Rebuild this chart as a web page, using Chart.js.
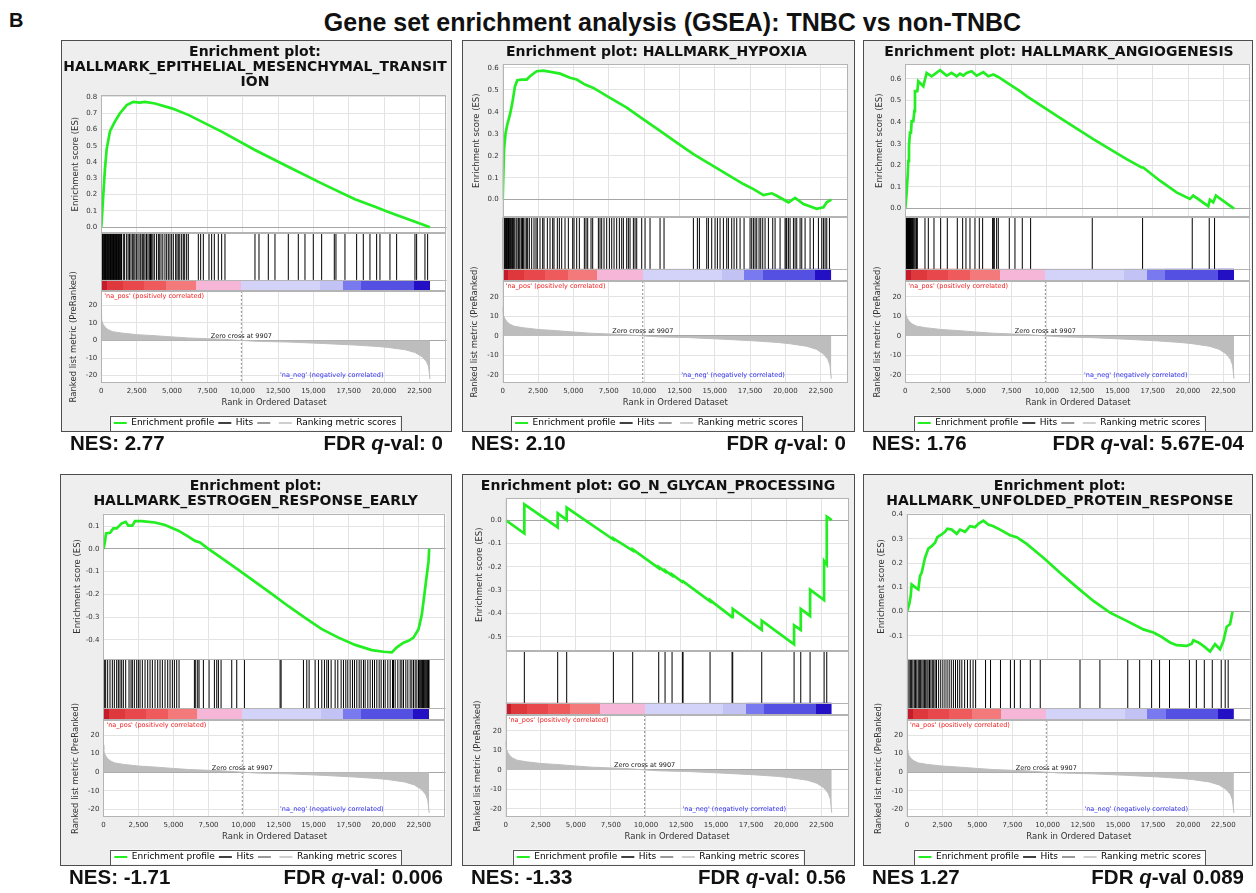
<!DOCTYPE html>
<html>
<head>
<meta charset="utf-8">
<title>GSEA: TNBC vs non-TNBC</title>
<script src="https://cdn.jsdelivr.net/npm/chart.js@4.4.1/dist/chart.umd.min.js"></script>
<style>
  html, body { margin:0; padding:0; background:#ffffff; }
  body { position:relative; width:1256px; height:893px; overflow:hidden; font-family:"Liberation Sans", Arial, sans-serif; color:#111; }
  .letter { position:absolute; left:9px; top:7px; font-size:20px; font-weight:bold; line-height:26px; }
  .main-title { position:absolute; left:672.5px; top:8px; transform:translateX(-50%); white-space:nowrap; font-size:25px; font-weight:bold; line-height:28px; }
  .card { position:absolute; box-sizing:border-box; height:392px; border:1px solid #4d4d4d; background:#eeeeee; }
  .card canvas { position:absolute; left:-1px; top:-1px; }
  .stat { position:absolute; font-size:20.5px; font-weight:bold; line-height:24px; white-space:nowrap; }
</style>
</head>
<body>
<div class="letter">B</div>
<div class="main-title">Gene set enrichment analysis (GSEA): TNBC vs non-TNBC</div>
<script>
// ---------------- data ----------------
const rankTicks = [0, 2500, 5000, 7500, 10000, 12500, 15000, 17500, 20000, 22500];
const metricTicks = [-20, -10, 0, 10, 20];
const RANK_MAX = 24430;
const ZERO_CROSS = 9907;

// ranked list metric (shared by all six panels)
const metricRank  = [0, 20, 60, 140, 300, 490, 800, 1440, 2500, 3800, 5000, 6150, 7500, 8500, 9907, 11000, 13200, 15600, 17900, 19500, 20300, 21500, 22200, 22700, 23000, 23150, 23250];
const metricValue = [14.7, 12, 10.5, 9, 7.3, 6.1, 5, 4.2, 3.3, 2.7, 2, 1.4, 1, 0.7, 0, -0.5, -0.9, -1.7, -2.6, -3.4, -4, -5.3, -6.9, -9.3, -12, -15, -22];

// colour bar band edges (ranks)
const bandEdges = [0, 400, 1500, 3000, 4600, 6700, 9907, 15500, 17100, 18400, 22100, 23250];

// enrichment score curves: [rank, ES]
const emtCurve = [[0,0],[140,0.197],[260,0.36],[380,0.48],[615,0.59],[970,0.65],[1320,0.70],[1800,0.75],[2260,0.77],[2700,0.765],[3090,0.77],[3800,0.76],[4980,0.73],[6150,0.69],[8510,0.587],[10870,0.474],[13220,0.371],[15580,0.269],[17940,0.172],[19360,0.125],[20300,0.094],[22190,0.033],[23250,0]];
const hypoxiaCurve = [[0,0],[94,0.23],[210,0.305],[328,0.343],[517,0.388],[682,0.441],[871,0.517],[1036,0.544],[1342,0.547],[1696,0.547],[1932,0.562],[2404,0.585],[2876,0.588],[3584,0.58],[4056,0.574],[4763,0.555],[5235,0.547],[5825,0.524],[6415,0.509],[7595,0.464],[8774,0.419],[9954,0.366],[11133,0.313],[12313,0.26],[13492,0.207],[14672,0.162],[15851,0.116],[17031,0.071],[17739,0.048],[18446,0.021],[19036,0.029],[19390,0.018],[20216,-0.012],[20688,0.008],[21278,-0.02],[22221,-0.042],[22693,-0.035],[22929,-0.012],[23250,0]];
const angioCurve = [[0,0],[49,0],[96,0.075],[167,0.152],[214,0.221],[261,0.29],[332,0.351],[402,0.351],[450,0.405],[567,0.405],[638,0.451],[685,0.543],[850,0.543],[921,0.589],[1274,0.566],[1392,0.597],[1510,0.628],[1864,0.612],[2453,0.64],[2924,0.615],[3278,0.628],[3631,0.612],[3867,0.624],[4103,0.615],[4338,0.628],[4692,0.635],[5046,0.615],[5517,0.631],[5871,0.612],[6224,0.62],[6578,0.609],[7403,0.574],[8110,0.543],[8581,0.52],[10938,0.42],[13295,0.321],[15652,0.229],[16713,0.19],[16831,0.19],[18009,0.129],[19187,0.075],[20130,0.045],[20366,0.06],[21427,0.011],[21545,0.041],[21781,0.029],[21970,0.06],[23250,0]];
const estrogenCurve = [[0,0],[107,0.032],[179,0.068],[465,0.071],[703,0.09],[941,0.09],[1298,0.112],[1584,0.119],[1774,0.102],[2060,0.102],[2250,0.122],[2727,0.122],[3679,0.116],[4393,0.105],[5346,0.08],[6060,0.054],[6536,0.035],[6893,0.028],[7489,0],[8441,-0.041],[9632,-0.092],[10822,-0.145],[12013,-0.198],[13203,-0.252],[14394,-0.303],[15584,-0.353],[16775,-0.39],[17965,-0.422],[19156,-0.445],[19989,-0.452],[20584,-0.455],[20941,-0.433],[21417,-0.412],[21774,-0.404],[22131,-0.39],[22489,-0.353],[22727,-0.288],[22965,-0.172],[23204,-0.055],[23250,0]];
const glycanCurve = [[0,0],[1329,-0.057],[1329,0.068],[3707,-0.031],[3707,0.03],[4349,0.001],[4349,0.054],[7677,-0.083],[7677,-0.078],[9056,-0.13],[9056,-0.125],[10911,-0.205],[10911,-0.2],[11363,-0.22],[11363,-0.215],[11862,-0.237],[11862,-0.232],[12599,-0.265],[12647,-0.262],[14572,-0.347],[14572,-0.342],[16141,-0.415],[16189,-0.38],[18258,-0.47],[18258,-0.43],[20564,-0.532],[20564,-0.45],[21040,-0.47],[21040,-0.38],[21705,-0.41],[21705,-0.298],[22704,-0.342],[22704,-0.175],[22894,-0.19],[22894,0.015],[23250,0]];
const upCurve = [[0,0],[166,0.033],[261,0.064],[332,0.112],[569,0.101],[806,0.092],[925,0.147],[1043,0.16],[1280,0.222],[1518,0.26],[1755,0.27],[1992,0.284],[2158,0.307],[2466,0.318],[2703,0.329],[2869,0.342],[3177,0.338],[3533,0.321],[3770,0.338],[4126,0.329],[4481,0.352],[4837,0.348],[5074,0.362],[5430,0.375],[5785,0.359],[6141,0.352],[6615,0.338],[7327,0.315],[7801,0.307],[8512,0.279],[9698,0.222],[10883,0.16],[12069,0.101],[13254,0.044],[14440,-0.004],[15625,-0.038],[16811,-0.073],[17522,-0.086],[17996,-0.1],[18708,-0.127],[19182,-0.138],[19893,-0.141],[20249,-0.132],[20367,-0.118],[20723,-0.127],[21079,-0.141],[21553,-0.164],[21909,-0.134],[22264,-0.155],[22501,-0.121],[22738,-0.062],[22975,-0.052],[23150,0]];

// hit positions (ranks)
const emtHits = [5,45,90,130,175,220,260,300,345,390,430,475,520,560,605,650,690,735,780,820,865,910,950,995,1040,1080,1125,1170,1210,1255,1300,1340,1385,1430,1558,1650,1794,1900,2000,2100,2218,2300,2383,2500,2600,2737,2800,2902,3000,3090,3200,3300,3397,3480,3562,3650,3750,3900,4033,4100,4222,4350,4500,4623,4740,4858,4977,5094,5259,5350,5448,5550,5684,5801,5900,6037,6155,6862,7027,7216,7617,7805,7994,8276,8512,8748,10870,11153,11812,12284,13227,13934,14406,14995,15585,16480,16598,17234,18060,18531,19002,19474,19710,20417,20889,22185,22303,22892,23081];
const hypoxiaHits = [10,50,95,140,185,230,275,320,365,410,455,500,560,634,700,752,820,941,1010,1106,1160,1224,1342,1400,1460,1578,1696,1767,1885,2050,2215,2357,2451,2640,2828,2923,3159,3347,3536,3630,3866,4008,4173,4409,4645,4952,5046,5235,5423,5777,5895,6013,6249,6367,6768,6886,7004,7169,7358,7547,7712,7877,8065,8254,8419,8537,8773,8891,9009,9245,9363,9481,9835,10070,10424,11132,11415,13491,13774,13916,14435,14553,14788,15024,15190,15378,15614,15850,15968,16204,16369,16558,16794,17077,17501,17619,17737,17855,17973,18138,18256,18398,18563,18799,19105,19271,19624,19978,20049,20096,20214,20332,20568,20686,20804,21040,21158,21394,21748,21983,22337,22573,22691,22809,22927,23116];
const angioHits = [20,49,70,96,120,143,170,190,220,237,260,284,300,332,350,379,400,449,480,520,560,614,680,756,800,850,1392,1628,2029,2500,2971,3678,4056,4291,4574,4928,5234,5470,6177,6224,6295,6460,6578,7355,7756,8275,8864,13224,16783,20295,21497,21874];
const estrogenHits = [60,155,298,465,631,774,941,1060,1179,1298,1417,1584,1822,1965,2060,2203,2370,2489,2608,2774,2965,3155,3322,3489,3679,3869,4036,4203,4393,4584,4750,4917,5060,5227,5393,6489,6584,6727,6822,7131,7536,7917,8084,8203,8393,9155,9512,10060,12608,12679,14274,14513,14679,15108,15346,15584,15774,15941,16060,16251,16536,16727,16965,17131,17298,17441,17608,17774,17917,18084,18251,18394,18560,18679,18870,19036,19203,19346,19513,19679,19822,19989,20108,20298,20465,20632,20703,20822,21013,21179,21298,21417,21584,21727,21893,22012,22131,22251,22370,22489,22540,22600,22660,22720,22780,22840,22900,22960,23020,23080,23140,23200,23240];
const glycanHits = [1329,3707,4349,7677,9056,10911,11363,11862,12599,12647,14572,16141,16189,18258,20564,21040,21705,22704,22894];
const upHits = [60,150,240,330,420,520,610,700,800,880,970,1060,1150,1240,1330,1420,1500,1600,1700,1800,1900,2000,2100,2250,2400,2550,2700,2850,3000,3150,3300,3450,3600,3750,3900,4100,4300,4500,4700,4880,5587,5940,6648,7355,7638,8062,8769,9476,12305,13720,15700,16548,17397,17963,18670,20084,20580,21145,21711,22348,22630,22842];

// y-axis ticks of the enrichment-score plots
const emtTicks = [0, 0.1, 0.2, 0.3, 0.4, 0.5, 0.6, 0.7, 0.8];
const hypoxiaTicks = [0, 0.1, 0.2, 0.3, 0.4, 0.5, 0.6];
const angioTicks = [0, 0.1, 0.2, 0.3, 0.4, 0.5, 0.6];
const estrogenTicks = [-0.4, -0.3, -0.2, -0.1, 0, 0.1];
const glycanTicks = [-0.5, -0.4, -0.3, -0.2, -0.1, 0];
const upTicks = [-0.1, 0, 0.1, 0.2, 0.3, 0.4];

const esRanges = [[-0.037, 0.812], [-0.08, 0.617], [-0.04, 0.668], [-0.485, 0.155], [-0.561, 0.094], [-0.196, 0.404]];
const metricRange = [-24.2, 28.2];

const panelTitles = [
  ['Enrichment plot:', 'HALLMARK_EPITHELIAL_MESENCHYMAL_TRANSIT', 'ION'],
  'Enrichment plot: HALLMARK_HYPOXIA',
  'Enrichment plot: HALLMARK_ANGIOGENESIS',
  ['Enrichment plot:', 'HALLMARK_ESTROGEN_RESPONSE_EARLY'],
  'Enrichment plot: GO_N_GLYCAN_PROCESSING',
  ['Enrichment plot:', 'HALLMARK_UNFOLDED_PROTEIN_RESPONSE']
];
const nesLabels = ['NES: 2.77', 'NES: 2.10', 'NES: 1.76', 'NES: -1.71', 'NES: -1.33', 'NES 1.27'];
const fdrSep = [': ', ': ', ': ', ': ', ': ', ' '];
const fdrValues = ['0', '0', '5.67E-04', '0.006', '0.56', '0.089'];
const legendLabels = ['Enrichment profile', 'Hits', '', 'Ranking metric scores'];

// ---------------- styles / layout ----------------
const bandColors = ['#c41c2a', '#de383c', '#e8484b', '#ef5a5d', '#f3797b', '#f5b6d8', '#d3d3fa', '#c2c2f4', '#7a7af0', '#5450e2', '#2410c4'];
const legendColors = ['#22ee22', '#404040', '#9a9a9a', '#cfcfcf'];
const cardLayout = [
  {left: 61,  top: 40,  width: 391, plotLeft: 40.3, plotRight: 5.3},
  {left: 462, top: 40,  width: 393, plotLeft: 40.7, plotRight: 7},
  {left: 863, top: 40,  width: 390, plotLeft: 42.3, plotRight: 2.3},
  {left: 60,  top: 474, width: 392, plotLeft: 43.5, plotRight: 6.3},
  {left: 462, top: 474, width: 393, plotLeft: 43.7, plotRight: 6.7},
  {left: 863, top: 474, width: 390, plotLeft: 44,   plotRight: 2.5}
];
const curves = [emtCurve, hypoxiaCurve, angioCurve, estrogenCurve, glycanCurve, upCurve];
const hitLists = [emtHits, hypoxiaHits, angioHits, estrogenHits, glycanHits, upHits];
const esTickLists = [emtTicks, hypoxiaTicks, angioTicks, estrogenTicks, glycanTicks, upTicks];

const AXIS_W = 38;
const CANVAS_H = 400;
const CB_TOP = 0.19;   // colour bar occupies the lower part of the hits strip
const tickFont = {family: 'DejaVu Sans', size: 7};
const axisTitleFont = {family: 'DejaVu Sans', size: 8.5};
const fmtRank = v => String(v).replace(/\B(?=(\d{3})+(?!\d))/g, ',');

// hard-stop gradient for the ranked-list colour bar, positioned through the x scale
function bandGradient(chart) {
  const x = chart.scales && chart.scales.x;
  if (!x || !chart.chartArea) return bandColors[0];
  const x0 = x.getPixelForValue(bandEdges[0]);
  const x1 = x.getPixelForValue(bandEdges[bandEdges.length - 1]);
  const g = chart.ctx.createLinearGradient(x0, 0, x1, 0);
  for (let b = 0; b < bandColors.length; b++) {
    const s = (x.getPixelForValue(bandEdges[b]) - x0) / (x1 - x0);
    const e = (x.getPixelForValue(bandEdges[b + 1]) - x0) / (x1 - x0);
    g.addColorStop(Math.max(0, Math.min(1, s)), bandColors[b]);
    g.addColorStop(Math.max(0, Math.min(1, e)), bandColors[b]);
  }
  return g;
}

const gseaPlugin = {
  id: 'gsea',
  beforeDraw(chart) {
    const {ctx, chartArea: ca} = chart;
    ctx.save();
    ctx.fillStyle = '#ffffff';
    ctx.fillRect(ca.left, ca.top, ca.right - ca.left, ca.bottom - ca.top);
    const hb = chart.legend && chart.legend.legendHitBoxes;
    if (hb && hb.length) {
      const l = Math.min(...hb.map(b => b.left)) - 4;
      const r = Math.max(...hb.map(b => b.left + b.width)) + 4;
      const t = hb[0].top - 3, b = hb[0].top + hb[0].height + 3;
      ctx.fillStyle = '#ffffff';
      ctx.fillRect(l, t, r - l, b - t);
      ctx.strokeStyle = '#555555';
      ctx.lineWidth = 1;
      ctx.strokeRect(Math.round(l) + 0.5, Math.round(t) + 0.5, Math.round(r - l), Math.round(b - t));
    }
    ctx.restore();
  },
  beforeDatasetsDraw(chart) {
    const {ctx, chartArea: ca, scales} = chart;
    const yH = scales.yH;
    ctx.save();
    ctx.fillStyle = '#ffffff';
    ctx.fillRect(ca.left, yH.top, ca.right - ca.left, yH.bottom - yH.top);
    ctx.restore();
  },
  afterDatasetsDraw(chart) {
    const {ctx, chartArea: ca, scales} = chart;
    const {x, yES, yH, yM} = scales;
    ctx.save();
    ctx.strokeStyle = '#b4b4b4';
    ctx.lineWidth = 1;
    [yES, yH, yM].forEach(s => {
      ctx.strokeRect(Math.round(ca.left) + 0.5, Math.round(s.top) + 0.5, Math.round(ca.right - ca.left) - 1, Math.round(s.bottom - s.top) - 1);
    });
    const cy = Math.round(yH.getPixelForValue(CB_TOP)) + 0.5;
    ctx.beginPath(); ctx.moveTo(ca.left, cy); ctx.lineTo(ca.right, cy); ctx.stroke();
    // annotations
    ctx.font = '6.5px "DejaVu Sans"';
    ctx.textBaseline = 'middle';
    ctx.textAlign = 'left';
    ctx.fillStyle = '#f02020';
    ctx.fillText("'na_pos' (positively correlated)", x.getPixelForValue(210), yM.top + 5);
    ctx.textAlign = 'center';
    ctx.textBaseline = 'bottom';
    ctx.fillStyle = '#202020';
    ctx.fillText('Zero cross at ' + ZERO_CROSS, x.getPixelForValue(ZERO_CROSS), yM.getPixelForValue(0) - 1);
    ctx.textBaseline = 'middle';
    ctx.fillStyle = '#3030f0';
    ctx.fillText("'na_neg' (negatively correlated)", x.getPixelForValue(16300), yM.getPixelForValue(-20));
    ctx.restore();
  }
};

function buildPanel(i) {
  const lay = cardLayout[i];
  const card = document.createElement('div');
  card.className = 'card';
  card.style.left = lay.left + 'px';
  card.style.top = lay.top + 'px';
  card.style.width = lay.width + 'px';
  const cv = document.createElement('canvas');
  cv.width = lay.width; cv.height = CANVAS_H;
  cv.style.width = lay.width + 'px'; cv.style.height = CANVAS_H + 'px';
  card.appendChild(cv);
  document.body.appendChild(card);

  const nes = document.createElement('div');
  nes.className = 'stat';
  nes.style.left = (lay.left + 9) + 'px';
  nes.style.top = (lay.top + 391) + 'px';
  nes.textContent = nesLabels[i];
  document.body.appendChild(nes);
  const fdr = document.createElement('div');
  fdr.className = 'stat';
  fdr.style.left = (lay.left + lay.width - 9) + 'px';
  fdr.style.top = (lay.top + 391) + 'px';
  fdr.style.transform = 'translateX(-100%)';
  fdr.innerHTML = 'FDR <i>q</i>-val' + fdrSep[i] + fdrValues[i];
  document.body.appendChild(fdr);

  const datasets = [];
  datasets.push({
    label: 'Enrichment profile', yAxisID: 'yES',
    data: curves[i].map(p => ({x: p[0], y: p[1]})),
    borderColor: '#22ee22', borderWidth: 2.7, pointRadius: 0, tension: 0, fill: false
  });
  const hitData = [];
  hitLists[i].forEach(r => { hitData.push({x: r, y: CB_TOP}, {x: r, y: 1}, {x: r, y: null}); });
  datasets.push({
    label: 'Hits', yAxisID: 'yH', data: hitData,
    borderColor: '#000000', borderWidth: 1, pointRadius: 0, spanGaps: false, fill: false
  });
  datasets.push({
    label: 'colour bar', yAxisID: 'yH',
    data: [{x: bandEdges[0], y: CB_TOP}, {x: bandEdges[bandEdges.length - 1], y: CB_TOP}],
    borderWidth: 0, borderColor: 'rgba(0,0,0,0)',
    backgroundColor: c => bandGradient(c.chart),
    pointRadius: 0, fill: {value: 0}
  });
  datasets.push({
    label: 'Ranking metric scores', yAxisID: 'yM',
    data: metricRank.map((r, k) => ({x: r, y: metricValue[k]})),
    borderColor: '#bdbdbd', backgroundColor: '#bdbdbd', borderWidth: 1, pointRadius: 0, fill: 'origin'
  });
  datasets.push({
    label: 'zero cross', yAxisID: 'yM',
    data: [{x: ZERO_CROSS, y: metricRange[1]}, {x: ZERO_CROSS, y: metricRange[0]}],
    borderColor: '#8a8a8a', borderWidth: 1, borderDash: [2, 2], pointRadius: 0, fill: false
  });

  const esT = esTickLists[i];
  new Chart(cv.getContext('2d'), {
    type: 'line',
    data: {datasets},
    plugins: [gseaPlugin],
    options: {
      responsive: false, animation: false, events: [],
      layout: {padding: {left: lay.plotLeft - AXIS_W, right: lay.plotRight, top: 0, bottom: 2.5}},
      plugins: {
        title: {
          display: true, text: panelTitles[i], color: '#111111',
          font: {family: 'DejaVu Sans', size: 14, weight: 'bold', lineHeight: 1.1},
          padding: {top: 4.3, bottom: 4.5}
        },
        legend: {
          position: 'bottom',
          labels: {
            font: {family: 'DejaVu Sans', size: 9}, color: '#222222',
            boxWidth: 13, boxHeight: 2, padding: 4,
            generateLabels: () => legendLabels.map((t, k) => ({
              text: t, fillStyle: legendColors[k], strokeStyle: legendColors[k],
              lineWidth: 0, hidden: false, datasetIndex: 0
            }))
          }
        },
        tooltip: {enabled: false}
      },
      scales: {
        x: {
          type: 'linear', position: 'bottom', min: 0, max: RANK_MAX,
          afterBuildTicks: s => { s.ticks = rankTicks.map(v => ({value: v})); },
          afterFit: s => { s.height = 31.5; },
          ticks: {autoSkip: false, maxRotation: 0, padding: 4, font: tickFont, color: '#333333', callback: v => fmtRank(v)},
          grid: {color: '#e3e3e3', drawTicks: false},
          border: {display: false},
          title: {display: true, text: 'Rank in Ordered Dataset', font: axisTitleFont, color: '#333333', padding: {top: 0, bottom: 6.8}}
        },
        yM: {
          type: 'linear', position: 'left', stack: 'gsea', stackWeight: 0.32,
          min: metricRange[0], max: metricRange[1],
          afterBuildTicks: s => { s.ticks = metricTicks.map(v => ({value: v})); },
          afterFit: s => { s.width = AXIS_W; },
          ticks: {autoSkip: false, padding: 4, font: tickFont, color: '#333333'},
          grid: {color: c => (c.tick && c.tick.value === 0) ? '#a6a6a6' : '#e3e3e3', drawTicks: false},
          border: {display: false},
          title: {display: true, text: 'Ranked list metric (PreRanked)', font: axisTitleFont, color: '#333333', padding: {top: 4.9, bottom: 0}}
        },
        yH: {
          type: 'linear', position: 'left', stack: 'gsea', stackWeight: 0.20,
          min: 0, max: 1,
          afterFit: s => { s.width = AXIS_W; },
          ticks: {display: false},
          grid: {display: false},
          border: {display: false}
        },
        yES: {
          type: 'linear', position: 'left', stack: 'gsea', stackWeight: 0.48,
          min: esRanges[i][0], max: esRanges[i][1],
          afterBuildTicks: s => { s.ticks = esT.map(v => ({value: v})); },
          afterFit: s => { s.width = AXIS_W; },
          ticks: {autoSkip: false, padding: 4, font: tickFont, color: '#333333', callback: v => (Math.round(v * 10) / 10).toFixed(1)},
          grid: {color: c => (c.tick && Math.abs(c.tick.value) < 1e-9) ? '#a6a6a6' : '#e3e3e3', drawTicks: false},
          border: {display: false},
          title: {display: true, text: 'Enrichment score (ES)', font: axisTitleFont, color: '#333333', padding: {top: 7.3, bottom: 0}}
        }
      }
    }
  });
}

for (let i = 0; i < 6; i++) buildPanel(i);
</script>
</body>
</html>
